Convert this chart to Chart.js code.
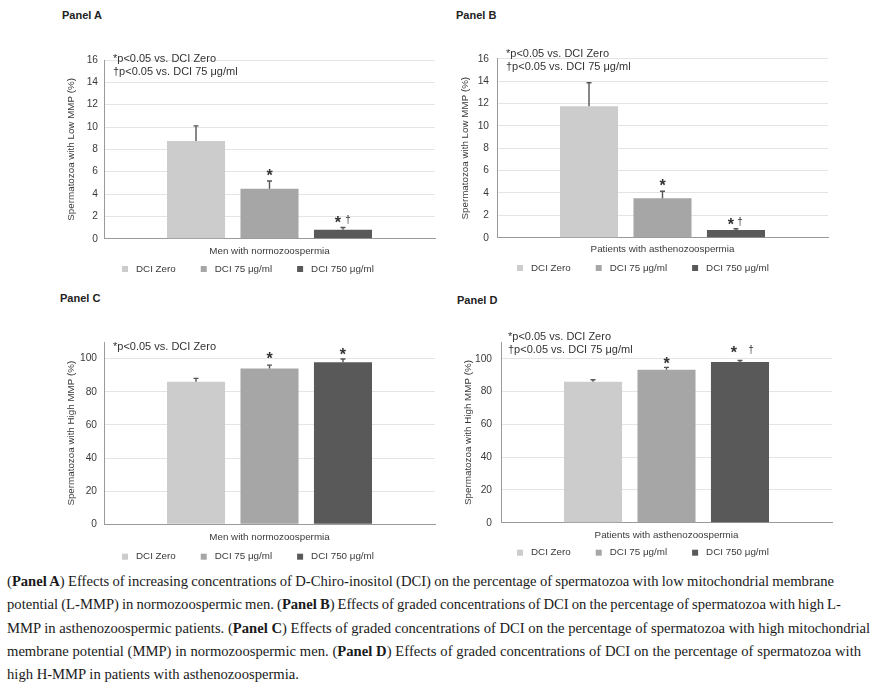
<!DOCTYPE html>
<html>
<head>
<meta charset="utf-8">
<script src="https://cdn.jsdelivr.net/npm/chart.js@4/dist/chart.umd.min.js"></script>
<style>
  body { margin: 0; background: #fff; width: 877px; height: 687px; overflow: hidden; position: relative; font-family: 'Liberation Sans', Arial, sans-serif; }
  canvas { position: absolute; }
  .ptitle { position: absolute; font-weight: bold; font-size: 11px; line-height: 14px; color: #222; }
  .cap { position: absolute; left: 7px; white-space: nowrap; font-family: 'Liberation Serif', 'DejaVu Serif', serif; color: #1a1a1a; line-height: 23px; }
  .cap span { display: inline-block; }
</style>
</head>
<body>
<div class="ptitle" style="left:62px;top:8px">Panel A</div>
<div class="ptitle" style="left:456px;top:8px">Panel B</div>
<div class="ptitle" style="left:60px;top:291px">Panel C</div>
<div class="ptitle" style="left:457px;top:293px">Panel D</div>
<canvas id="cA" width="440" height="285" style="left:0;top:0"></canvas>
<canvas id="cB" width="437" height="285" style="left:440px;top:0"></canvas>
<canvas id="cC" width="440" height="285" style="left:0;top:285px"></canvas>
<canvas id="cD" width="437" height="285" style="left:440px;top:285px"></canvas>
<div id="caption"></div>
<script>
'use strict';

// ── DATA ───────────────────────────────────────────────────
const SERIES = ['DCI Zero', 'DCI 75 μg/ml', 'DCI 750 μg/ml'];
const COLORS = ['#cccccc', '#a6a6a6', '#595959'];

const catNormo = ['Men with normozoospermia'];
const catAstheno = ['Patients with asthenozoospermia'];

const ticksLow = [0, 2, 4, 6, 8, 10, 12, 14, 16];
const ticksHigh = [0, 20, 40, 60, 80, 100];

// Panel A – low MMP, normozoospermia
const meanA = [8.75, 4.48, 0.80];
const errA = [1.35, 0.69, 0.20];
const sigA = ['', '*', '*†'];

// Panel B – low MMP, asthenozoospermia
const meanB = [11.74, 3.52, 0.69];
const errB = [2.11, 0.63, 0.11];
const sigB = ['', '*', '*†'];

// Panel C – high MMP, normozoospermia
const meanC = [86.1, 94.1, 97.8];
const errC = [2.0, 2.0, 2.0];
const sigC = ['', '*', '*'];

// Panel D – high MMP, asthenozoospermia
const meanD = [86.0, 93.3, 98.0];
const errD = [1.2, 1.4, 0.9];
const sigD = ['', '*', '*†'];

const NOTE_BOTH = ['*p<0.05 vs. DCI Zero', '†p<0.05 vs. DCI 75 μg/ml'];
const NOTE_ZERO = ['*p<0.05 vs. DCI Zero'];

const CAPTION = [
  '(<b>Panel A</b>) Effects of increasing concentrations of D-Chiro-inositol (DCI) on the percentage of spermatozoa with low mitochondrial membrane',
  'potential (L-MMP) in normozoospermic men. (<b>Panel B</b>) Effects of graded concentrations of DCI on the percentage of spermatozoa with high L-',
  'MMP in asthenozoospermic patients. (<b>Panel C</b>) Effects of graded concentrations of DCI on the percentage of spermatozoa with high mitochondrial',
  'membrane potential (MMP) in normozoospermic men. (<b>Panel D</b>) Effects of graded concentrations of DCI on the percentage of spermatozoa with',
  'high H-MMP in patients with asthenozoospermia.'
];

// ── STYLE ──────────────────────────────────────────────────
const FONT = "'Liberation Sans', Arial, sans-serif";
const TXT = '#3a3a3a';
const GRID = '#e4e4e4';
const AXIS = '#9a9a9a';
const ERR = '#555555';

// ── PLUGIN: error bars, significance marks, notes, legend ──
const extras = {
  id: 'extras',
  afterDatasetsDraw(chart, args, o) {
    const ctx = chart.ctx;
    const y = chart.scales.y;
    ctx.save();
    chart.data.datasets.forEach((ds, i) => {
      const bar = chart.getDatasetMeta(i).data[0];
      const top = y.getPixelForValue(ds.data[0] + o.err[i]);
      ctx.strokeStyle = ERR;
      ctx.lineWidth = 1.4;
      ctx.beginPath();
      ctx.moveTo(bar.x, bar.y);
      ctx.lineTo(bar.x, top);
      ctx.moveTo(bar.x - 2.5, top);
      ctx.lineTo(bar.x + 2.5, top);
      ctx.stroke();

      const s = o.sig[i];
      if (!s) return;
      const cy = top - (o.gap[i] || 9);
      ctx.fillStyle = '#333';
      ctx.textAlign = 'center';
      ctx.textBaseline = 'alphabetic';
      const hasDag = s.includes('†');
      ctx.font = 'bold 16px ' + FONT;
      ctx.fillText('*', bar.x + (hasDag ? o.dag[0] : 0), cy + 0.58 * 16);
      if (hasDag) {
        ctx.font = '10px ' + FONT;
        ctx.fillText('†', bar.x + o.dag[1], cy + 4);
      }
    });

    // notes
    ctx.fillStyle = '#333';
    ctx.font = '11px ' + FONT;
    ctx.textAlign = 'left';
    ctx.textBaseline = 'middle';
    o.notes.forEach((t, k) => ctx.fillText(t, o.noteX, o.noteY + k * 13));

    // legend
    ctx.font = '9.8px ' + FONT;
    let x = o.legX;
    chart.data.datasets.forEach(ds => {
      ctx.fillStyle = ds.backgroundColor;
      ctx.fillRect(x, o.legY - 3, 6, 6);
      ctx.fillStyle = TXT;
      ctx.fillText(ds.label, x + 14, o.legY);
      x += 14 + ctx.measureText(ds.label).width + 25;
    });
    ctx.restore();
  }
};

function makeChart(id, p) {
  return new Chart(document.getElementById(id), {
    type: 'bar',
    data: {
      labels: p.cat,
      datasets: SERIES.map((s, i) => ({
        label: s, data: [p.mean[i]], backgroundColor: COLORS[i], borderWidth: 0
      }))
    },
    options: {
      responsive: false,
      animation: false,
      events: [],
      layout: { padding: { left: p.padL, right: p.padR, top: p.padT, bottom: 0 } },
      datasets: { bar: { categoryPercentage: 0.666, barPercentage: 0.79 } },
      scales: {
        x: {
          grid: { display: false, drawTicks: false },
          border: { color: AXIS },
          ticks: { color: TXT, font: { family: FONT, size: 9.8 }, padding: p.xPad },
          afterFit: s => { s.height = p.xH; }
        },
        y: {
          min: 0, max: p.max,
          afterBuildTicks: s => { s.ticks = p.ticks.map(v => ({ value: v })); },
          grid: { color: GRID, drawTicks: false },
          border: { color: AXIS },
          ticks: { color: TXT, font: { family: FONT, size: 10.2 }, padding: p.yPad },
          title: { display: true, text: p.yTitle, padding: 0, color: TXT, font: { family: FONT, size: 9.8 } },
          afterFit: s => { s.width = p.yW; }
        }
      },
      plugins: {
        legend: { display: false },
        tooltip: { enabled: false },
        extras: {
          err: p.err, sig: p.sig, gap: p.gap, dag: p.dag,
          notes: p.notes, noteX: p.noteX, noteY: p.noteY,
          legX: p.legX, legY: p.legY
        }
      }
    },
    plugins: [extras]
  });
}

// ── INIT ───────────────────────────────────────────────────
makeChart('cA', {
  cat: catNormo, mean: meanA, err: errA, sig: sigA, gap: [9, 9, 9], dag: [-5, 5],
  ticks: ticksLow, max: 16, yTitle: 'Spermatozoa with Low MMP (%)',
  padL: 65, yW: 39, padR: 5, padT: 60, xH: 46.3, xPad: 7, yPad: 6,
  notes: NOTE_BOTH, noteX: 113, noteY: 59, legX: 122, legY: 269
});
makeChart('cB', {
  cat: catAstheno, mean: meanB, err: errB, sig: sigB, gap: [10, 10, 8], dag: [-5, 4],
  ticks: ticksLow, max: 16, yTitle: 'Spermatozoa with Low MMP (%)',
  padL: 19, yW: 38, padR: 49, padT: 58.7, xH: 47.3, xPad: 6, yPad: 8,
  notes: NOTE_BOTH, noteX: 66, noteY: 54, legX: 77, legY: 268
});
makeChart('cC', {
  cat: catNormo, mean: meanC, err: errC, sig: sigC, gap: [10, 10, 8], dag: [0, 0],
  ticks: ticksHigh, max: 110, yTitle: 'Spermatozoa with High MMP (%)',
  padL: 65, yW: 39, padR: 5, padT: 57.1, xH: 45.7, xPad: 7, yPad: 7,
  notes: NOTE_ZERO, noteX: 113, noteY: 62, legX: 122, legY: 271.7
});
makeChart('cD', {
  cat: catAstheno, mean: meanD, err: errD, sig: sigD, gap: [8, 8, 12], dag: [-6, 11],
  ticks: ticksHigh, max: 110, yTitle: 'Spermatozoa with High MMP (%)',
  padL: 22, yW: 39, padR: 45, padT: 57.3, xH: 47.3, xPad: 7, yPad: 9,
  notes: NOTE_BOTH, noteX: 68, noteY: 51.7, legX: 77, legY: 267.7
});

// caption: one div per line, sized to the widths of the original lines
const capEnds = [834, 841, 870, 861, 300];
const capBox = document.getElementById('caption');
const capLines = CAPTION.map((html, i) => {
  const d = document.createElement('div');
  d.className = 'cap';
  d.style.top = (570 + i * 23.3) + 'px';
  d.style.fontSize = '15px';
  d.innerHTML = '<span>' + html + '</span>';
  capBox.appendChild(d);
  return d;
});
const w3 = capLines[2].firstChild.getBoundingClientRect().width;
const fs = 15 * (capEnds[2] - 7) / w3;
capLines.forEach((d, i) => {
  d.style.fontSize = fs.toFixed(2) + 'px';
  const w = d.firstChild.getBoundingClientRect().width;
  const spaces = (CAPTION[i].replace(/<[^>]+>/g, '').match(/ /g) || []).length;
  if (i < 4 && spaces) d.style.wordSpacing = ((capEnds[i] - 7 - w) / spaces).toFixed(2) + 'px';
});
</script>
</body>
</html>
